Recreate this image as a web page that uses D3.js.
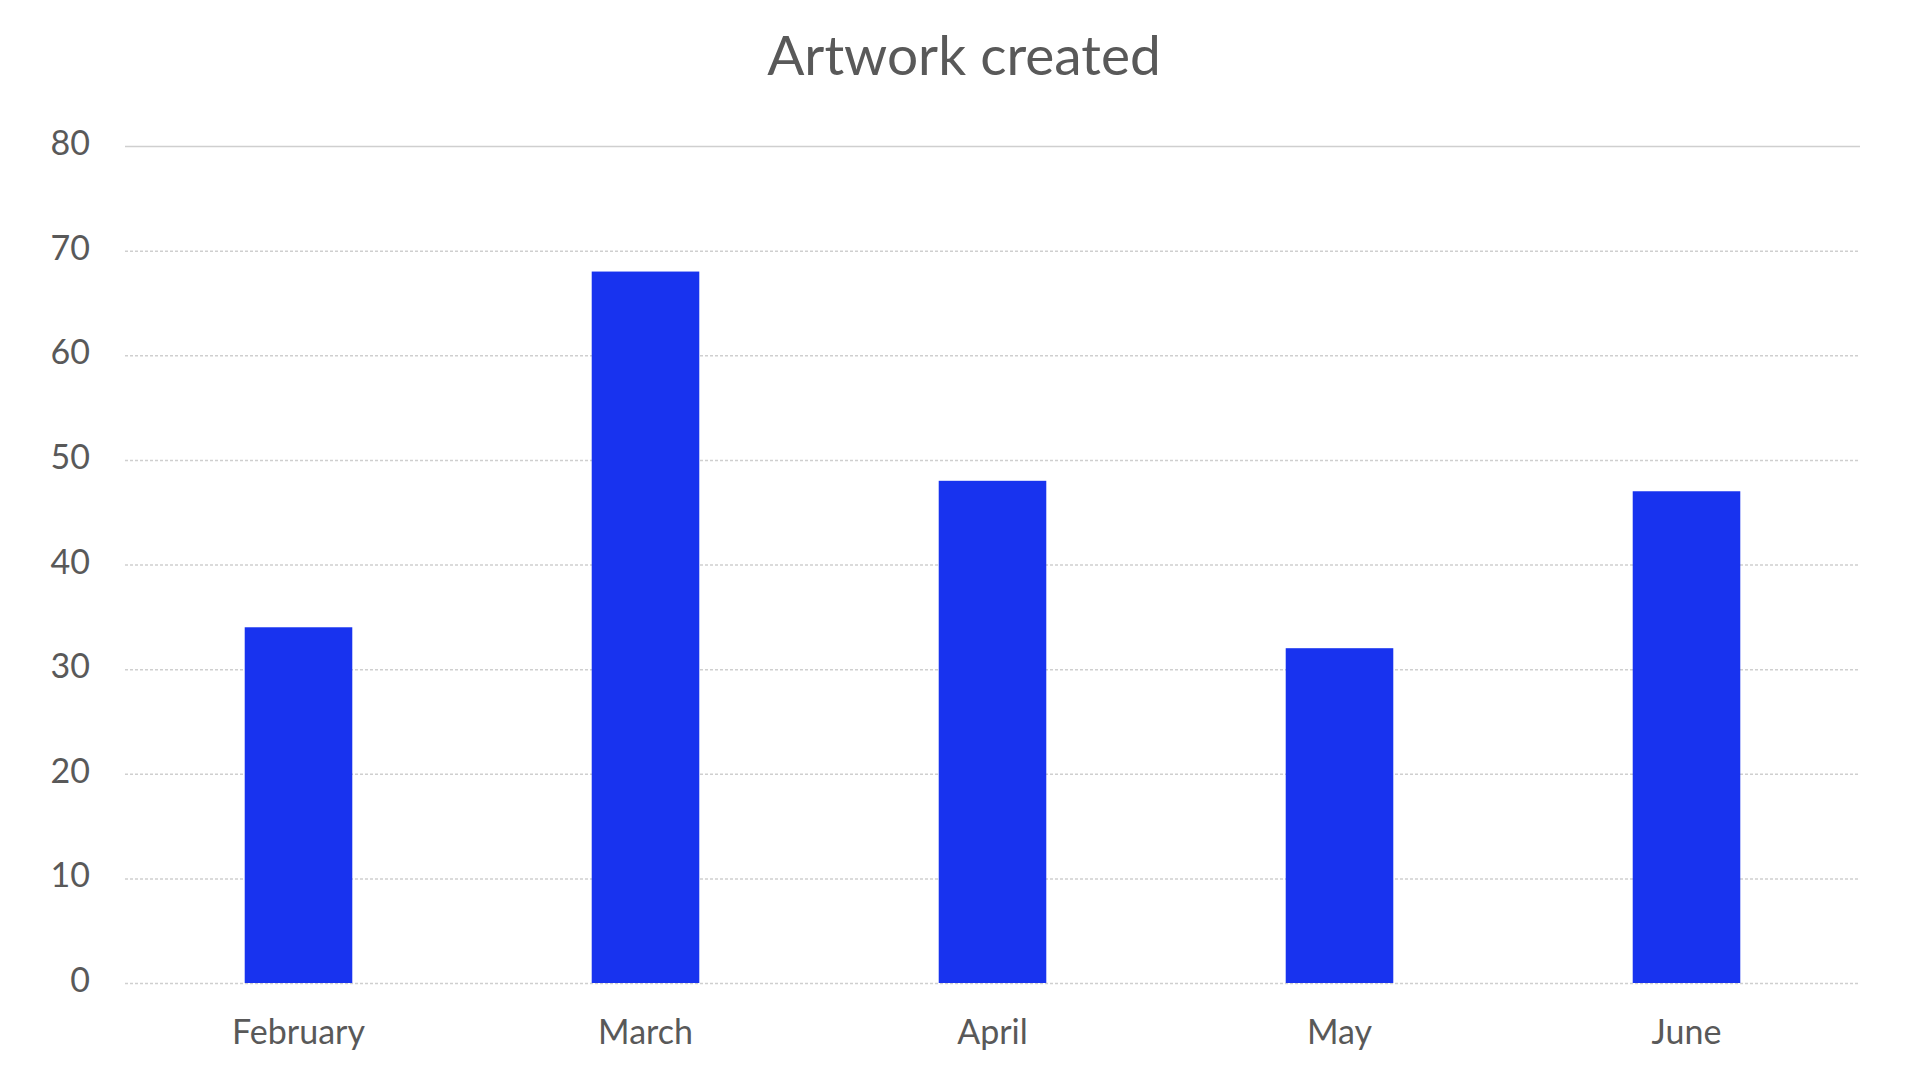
<!DOCTYPE html>
<html>
<head>
<meta charset="utf-8">
<script src="https://cdn.jsdelivr.net/npm/d3@7"></script>
<style>
  html, body { margin: 0; padding: 0; background: #fff; }
  svg { display: block; }
  .tick text { font-family: Lato, "Open Sans", sans-serif; fill: #595959; }
</style>
</head>
<body>
<div id="chart"></div>
<script>
const width = 1920;
const height = 1080;

// chart data
const title = "Artwork created";
const months = ["February", "March", "April", "May", "June"];
const artworks = [34, 68, 48, 32, 47];
const yTicks = [0, 10, 20, 30, 40, 50, 60, 70, 80];

const margin = { top: 146, right: 60, bottom: 97, left: 125 };

const svg = d3.select("#chart")
    .append("svg")
    .attr("width", width)
    .attr("height", height)
    .attr("viewBox", `0 0 ${width} ${height}`);

// scales
const x = d3.scaleBand()
    .domain(months)
    .range([margin.left, width - margin.right])
    .paddingInner(0.69)
    .paddingOuter(0.345);

const y = d3.scaleLinear()
    .domain([0, 80])
    .range([height - margin.bottom, margin.top]);

// gridlines
svg.append("g")
    .selectAll("line")
    .data(yTicks)
    .enter()
    .append("line")
    .attr("x1", margin.left)
    .attr("x2", width - margin.right)
    .attr("y1", d => y(d) + 0.5)
    .attr("y2", d => y(d) + 0.5)
    .attr("stroke", "#cfcfcf")
    .attr("stroke-width", 1.5)
    .attr("stroke-dasharray", d => d === 80 ? null : "3,2");

// bars
svg.append("g")
    .selectAll("rect")
    .data(months)
    .enter()
    .append("rect")
    .attr("x", d => x(d))
    .attr("width", x.bandwidth())
    .attr("y", (d, i) => y(artworks[i]))
    .attr("height", (d, i) => y(0) - y(artworks[i]))
    .attr("fill", "#1833ef");

// y axis labels
const yAxis = svg.append("g")
    .attr("transform", `translate(${margin.left - 35},0)`)
    .call(d3.axisLeft(y).tickValues(yTicks).tickSize(0).tickPadding(0));
yAxis.select(".domain").remove();
yAxis.selectAll("text").attr("font-size", 34).attr("dy", "0.25em");

// x axis labels
const xAxis = svg.append("g")
    .attr("transform", `translate(0,${y(0) + 34})`)
    .call(d3.axisBottom(x).tickSize(0).tickPadding(0));
xAxis.select(".domain").remove();
xAxis.selectAll("text").attr("font-size", 34).attr("dy", "0.8em");

// title
svg.append("text")
    .attr("x", 964)
    .attr("y", 75)
    .attr("text-anchor", "middle")
    .attr("font-family", "Lato, 'Open Sans', sans-serif")
    .attr("font-size", 55)
    .attr("fill", "#595959")
    .text(title);
</script>
</body>
</html>
